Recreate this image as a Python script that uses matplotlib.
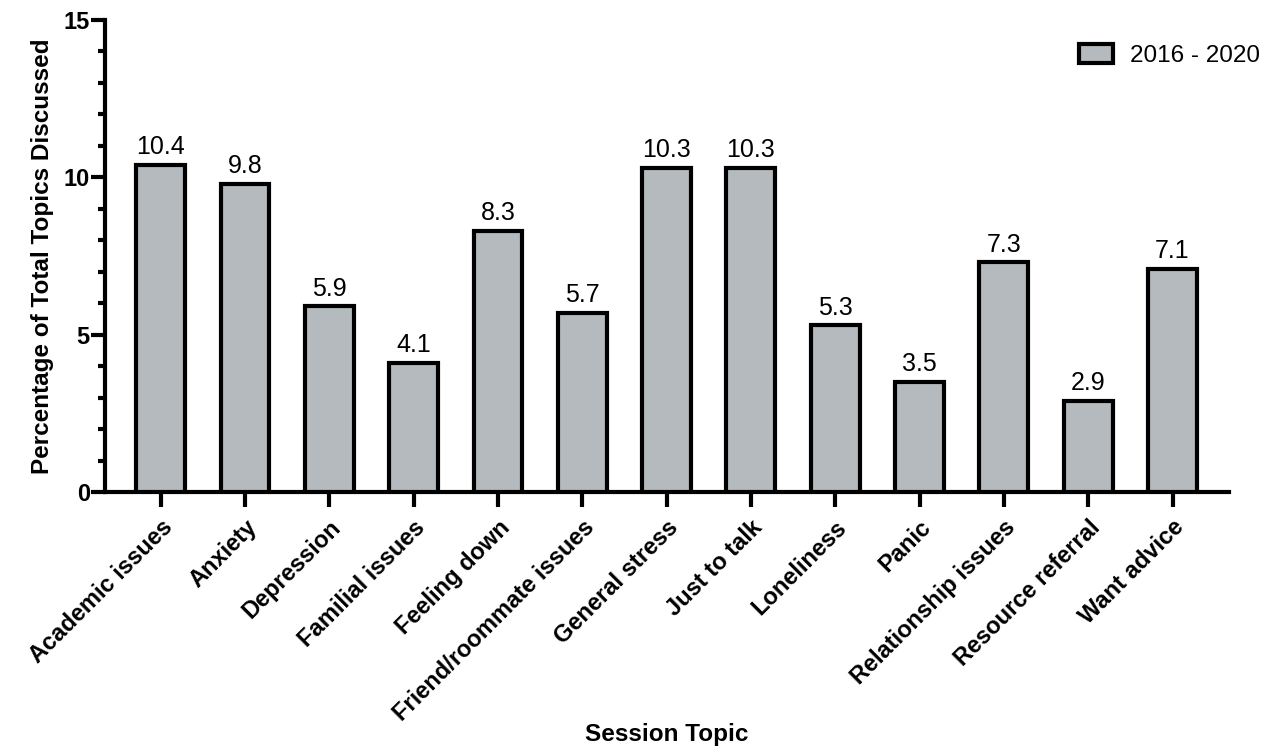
import numpy as np
import matplotlib.pyplot as plt
from matplotlib.ticker import MultipleLocator

plt.rcParams['font.family'] = ['Liberation Sans', 'DejaVu Sans']

topics = ['Academic issues', 'Anxiety', 'Depression', 'Familial issues',
          'Feeling down', 'Friend/roommate issues', 'General stress',
          'Just to talk', 'Loneliness', 'Panic', 'Relationship issues',
          'Resource referral', 'Want advice']
pct = [10.4, 9.8, 5.9, 4.1, 8.3, 5.7, 10.3, 10.3, 5.3, 3.5, 7.3, 2.9, 7.1]
series_name = '2016 - 2020'

fig = plt.figure(figsize=(12.78, 7.52), dpi=100)
ax = fig.add_axes([0.0822, 0.3457, 0.8795, 0.6277])

x = np.arange(len(topics))
bars = ax.bar(x, pct, width=0.58, color='#b4babd', edgecolor='black',
              linewidth=3, label=series_name, zorder=3)

for xi, v in zip(x, pct):
    ax.text(xi, v + 0.18, f'{v:.1f}', ha='center', va='bottom', fontsize=18)

ax.set_xlim(-0.66, 12.67)
ax.set_ylim(0, 15)
ax.yaxis.set_major_locator(MultipleLocator(5))
ax.yaxis.set_minor_locator(MultipleLocator(1))

for s in ['top', 'right']:
    ax.spines[s].set_visible(False)
for s in ['left', 'bottom']:
    ax.spines[s].set_linewidth(3)

ax.tick_params(axis='y', which='major', length=10, width=3, labelsize=17, pad=1)
ax.tick_params(axis='y', which='minor', length=5, width=3)
ax.tick_params(axis='x', which='major', length=11, width=3, labelsize=17, pad=6)
for lab in ax.get_yticklabels():
    lab.set_fontweight('bold')

ax.set_xticks(x)
ax.set_xticklabels(topics, rotation=45, ha='right', rotation_mode='anchor',
                   fontweight='bold')

ax.set_ylabel('Percentage of Total Topics Discussed', fontsize=17.5,
              fontweight='bold', labelpad=7)
# x label centred under the axes, near the bottom edge
ax.text(0.5, 0.008, 'Session Topic', transform=ax.transAxes, ha='center',
        va='bottom', fontsize=17.5, fontweight='bold')
ax.texts[-1].set_transform(
    plt.matplotlib.transforms.blended_transform_factory(ax.transAxes, fig.transFigure))

leg = ax.legend(loc='upper right', bbox_to_anchor=(1.047, 0.995), frameon=False,
                fontsize=17.5, handlelength=1.4, handleheight=0.8,
                handletextpad=0.7)
for h in leg.legend_handles:
    h.set_linewidth(3)

fig.savefig('out.png', dpi=100)
